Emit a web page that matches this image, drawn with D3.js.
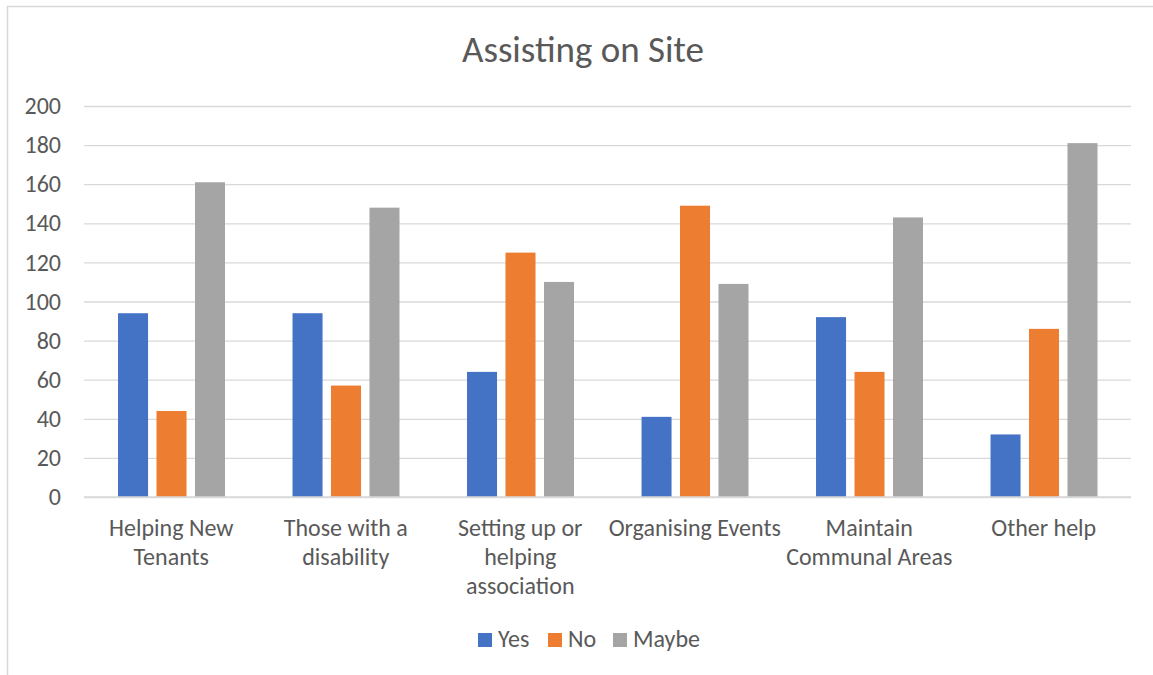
<!DOCTYPE html>
<html>
<head>
<meta charset="utf-8">
<script src="https://cdn.jsdelivr.net/npm/d3@7"></script>
<style>
  html, body { margin: 0; padding: 0; background: #fff; }
  svg { display: block; }
  text { font-family: Carlito, Calibri, "Open Sans", sans-serif; fill: #595959; }
</style>
</head>
<body>
<svg id="chart" width="1153" height="675"></svg>
<script>
const title = "Assisting on Site";
const categories = ["Helping New Tenants", "Those with a disability", "Setting up or helping association", "Organising Events", "Maintain Communal Areas", "Other help"];
const categoryLines = [["Helping New", "Tenants"], ["Those with a", "disability"], ["Setting up or", "helping", "association"], ["Organising Events"], ["Maintain", "Communal Areas"], ["Other help"]];
const seriesNames = ["Yes", "No", "Maybe"];
const yesValues = [94, 94, 64, 41, 92, 32];
const noValues = [44, 57, 125, 149, 64, 86];
const maybeValues = [161, 148, 110, 109, 143, 181];
const yTicks = [0, 20, 40, 60, 80, 100, 120, 140, 160, 180, 200];
const colors = ["#4472C4", "#ED7D31", "#A5A5A5"];

(function () {
const seriesValues = [yesValues, noValues, maybeValues];
const svg = d3.select("#chart");

// chart border
svg.append("rect").attr("x", 7.5).attr("y", 6.5).attr("width", 1200).attr("height", 700)
  .attr("fill", "none").attr("stroke", "#d9d9d9").attr("stroke-width", 1.5);

const pLeft = 84, pRight = 1131, pTop = 106, pBottom = 497;
const y = d3.scaleLinear().domain([0, 200]).range([pBottom, pTop]);
const x0 = d3.scaleBand().domain(categories).range([pLeft, pRight]).padding(0);
const bw = x0.bandwidth();
const x1 = d3.scaleBand().domain(seriesNames).range([bw * 0.195, bw * 0.808]).paddingInner(0.22).paddingOuter(0);

// title
svg.append("text").attr("x", 583).attr("y", 62).attr("text-anchor", "middle")
  .style("font-size", "37px").text(title);

// gridlines
const yAxis = d3.axisLeft(y).tickValues(yTicks).tickSize(-(pRight - pLeft)).tickPadding(23);
const gy = svg.append("g").attr("transform", `translate(${pLeft},0)`).call(yAxis);
gy.select(".domain").remove();
gy.selectAll(".tick line").attr("stroke", "#d9d9d9").attr("stroke-width", 1.3);
gy.selectAll(".tick text").style("font-size", "24px").attr("fill", "#595959")
  .style("font-family", "Carlito, Calibri, 'Open Sans', sans-serif");

// bars
const groups = svg.append("g").selectAll("g").data(categories).join("g")
  .attr("transform", d => `translate(${x0(d)},0)`);
groups.selectAll("rect")
  .data((d, i) => seriesNames.map((s, j) => ({ s, v: seriesValues[j][i], c: colors[j] })))
  .join("rect")
  .attr("x", d => x1(d.s))
  .attr("width", x1.bandwidth())
  .attr("y", d => y(d.v))
  .attr("height", d => y(0) - y(d.v))
  .attr("fill", d => d.c);

// baseline
svg.append("line").attr("x1", pLeft).attr("x2", pRight).attr("y1", y(0)).attr("y2", y(0))
  .attr("stroke", "#d9d9d9").attr("stroke-width", 1.3);

// category labels
categories.forEach((c, i) => {
  const t = svg.append("text").attr("text-anchor", "middle")
    .attr("x", x0(c) + bw / 2).attr("y", 536).style("font-size", "24px");
  categoryLines[i].forEach((line, k) => {
    t.append("tspan").attr("x", x0(c) + bw / 2).attr("dy", k === 0 ? 0 : 29).text(line);
  });
});

// legend
const legendX = [478, 548, 613];
const lg = svg.append("g");
seriesNames.forEach((s, j) => {
  const lx = legendX[j];
  lg.append("rect").attr("x", lx).attr("y", 633).attr("width", 14).attr("height", 14).attr("fill", colors[j]);
  lg.append("text").attr("x", lx + 20).attr("y", 647).style("font-size", "24px").text(s);
});
})();
</script>
</body>
</html>
